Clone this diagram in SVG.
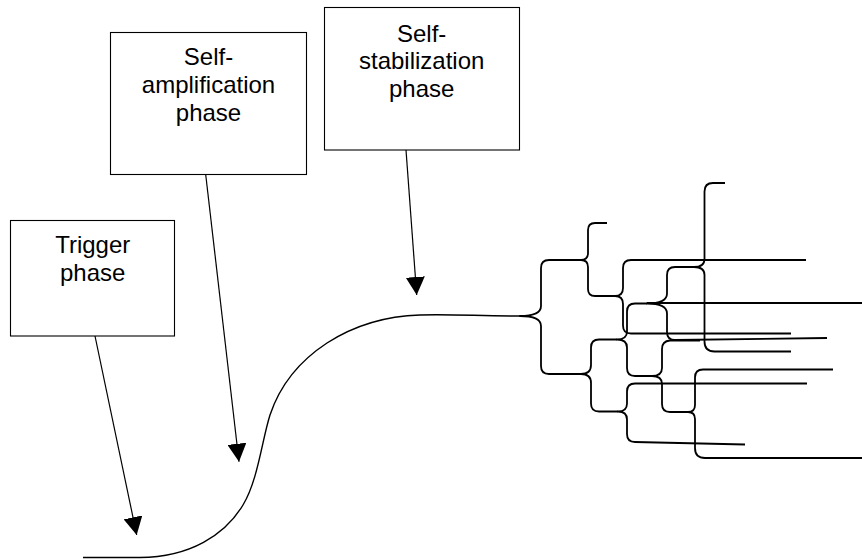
<svg xmlns="http://www.w3.org/2000/svg" width="862" height="559" viewBox="0 0 862 559">
  <style>
    .box { fill: #ffffff; stroke: #000000; stroke-width: 1.1; }
    .lbl { font-family: "Liberation Sans", Arial, sans-serif; font-size: 24px; fill: #000000; text-anchor: middle; }
    .arrow { fill: none; stroke: #000000; stroke-width: 1.2; marker-end: url(#head); }
    .curve { fill: none; stroke: #000000; stroke-width: 1.4; }
    .brace { fill: none; stroke: #000000; stroke-width: 1.8; stroke-linejoin: round; }
  </style>
  <defs>
    <marker id="head" markerUnits="userSpaceOnUse" markerWidth="18" markerHeight="19" refX="18" refY="9.5" orient="auto">
      <path d="M0,0 L18,9.5 L0,19 z" fill="#000000"/>
    </marker>
  </defs>
  <rect width="862" height="559" fill="#ffffff"/>

  <g id="trigger-phase">
    <rect class="box" x="10.5" y="220.5" width="164" height="115.5"/>
    <text class="lbl" x="92.7" y="253.3">Trigger</text>
    <text class="lbl" x="92.7" y="281">phase</text>
  </g>

  <g id="self-amplification-phase">
    <rect class="box" x="110.5" y="32.5" width="196" height="142"/>
    <text class="lbl" x="208.5" y="65">Self-</text>
    <text class="lbl" x="208.5" y="93">amplification</text>
    <text class="lbl" x="208.5" y="120.8">phase</text>
  </g>

  <g id="self-stabilization-phase">
    <rect class="box" x="324.5" y="7.5" width="195" height="142.5"/>
    <text class="lbl" x="421.7" y="41.7">Self-</text>
    <text class="lbl" x="421.7" y="69">stabilization</text>
    <text class="lbl" x="421.7" y="96.5">phase</text>
  </g>

  <g id="connectors">
    <line class="arrow" x1="95" y1="336" x2="136.7" y2="535"/>
    <line class="arrow" x1="205.7" y1="174.5" x2="239" y2="461.7"/>
    <line class="arrow" x1="406" y1="150" x2="416.7" y2="295"/>
  </g>

  <g id="growth-curve">
    <path class="curve" d="M83,557.5 H140 C190,557 225,535 243,505 C258,480 262,440 270,415 C280,385 298,362 327,343 C355,325 385,316 420,315 C450,314 480,316 520,316"/>
  </g>

  <g id="branching-tree">
    <path class="brace" d="M581,260 H549 Q541,260 541,268 V306 Q541,316 520,316 Q541,316 541,326 V366 Q541,374 549,374 H581"/>
    <path class="brace" d="M607,223 H595 Q588,223 588,230 V253 Q588,260 581,260 Q588,260 588,267 V289 Q588,296 595,296 H615"/>
    <path class="brace" d="M806,260 H631 Q623,260 623,268 V288 Q623,296 615,296 Q623,296 623,304 V325.5 Q623,333.5 631,333.5 H791"/>
    <path class="brace" d="M617,339.5 H599 Q591,339.5 591,347.5 V365 Q591,374 581,374 Q591,374 591,383 V403.5 Q591,411.5 599,411.5 H618"/>
    <path class="brace" d="M647,303.5 H635 Q627,303.5 627,311.5 V331.5 Q627,339.5 617,339.5 Q627,339.5 627,347.5 V368 Q627,376 635,376 H652"/>
    <path class="brace" d="M694,267 H675 Q667,267 667,275 V293.5 Q667,303.5 647,303.5 Q667,303.5 667,313.5 V332 Q667,340 675,340 L827,338"/>
    <path class="brace" d="M647,303 H862"/>
    <path class="brace" d="M725,183 H713 Q704.5,183 704.5,191.5 V259 Q704.5,267 694,267 Q704.5,267 704.5,275 V341.5 Q704.5,351.5 714.5,351.5 H791"/>
    <path class="brace" d="M700,340.5 H670 Q662,341 662,349 V368 Q662,376 652,376 Q662,376 662,384 V404 Q662,412 670,412 H688"/>
    <path class="brace" d="M833,369.5 H703 Q695,369.5 695,377.5 V405 Q695,412 688,412 Q695,412 695,419 V448 Q695,458 705,458 H862"/>
    <path class="brace" d="M807,383.5 H635 Q627,383.5 627,391.5 V403.5 Q627,411.5 618,411.5 Q627,411.5 627,419.5 V434 Q627,442 635,442 L745,444.5"/>
  </g>
</svg>
